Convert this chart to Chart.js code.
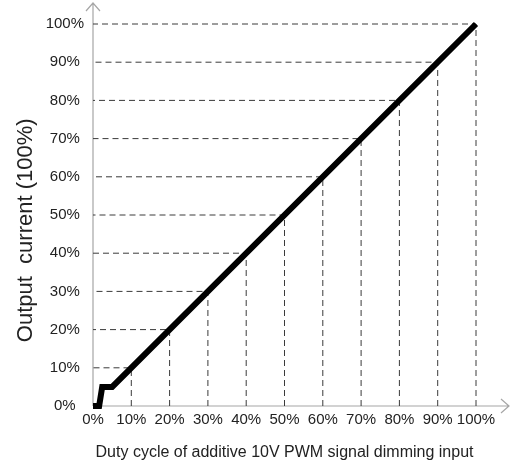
<!DOCTYPE html>
<html>
<head>
<meta charset="utf-8">
<script src="https://cdn.jsdelivr.net/npm/chart.js@4"></script>
<style>
  html, body { margin: 0; padding: 0; background: #fff; }
  #wrap { width: 525px; height: 470px; }
</style>
</head>
<body>
<div id="wrap"><canvas id="chart"></canvas></div>
<script>
// dimming curve (duty cycle % -> output current %)
const dutyCycle = [0, 1.6, 2.4, 5, 100];
const outputCurrent = [0, 0, 5, 5, 100];
// guide marks drawn as dashed L shapes
const guideValues = [10, 20, 30, 40, 50, 60, 70, 80, 90, 100];
const tickStep = 10;

const curvePoints = dutyCycle.map((x, i) => ({ x: x, y: outputCurrent[i] }));

const guidePoints = [];
guideValues.forEach((v) => {
    guidePoints.push({ x: v, y: 0 });
    guidePoints.push({ x: v, y: v });
    guidePoints.push({ x: 0, y: v });
    guidePoints.push({ x: v, y: null });
});

// axis lines with open arrow heads, running past the plot area
const arrowAxes = {
    id: 'arrowAxes',
    beforeDatasetsDraw(chart) {
        const ctx = chart.ctx;
        const xs = chart.scales.x;
        const ys = chart.scales.y;
        const x0 = xs.getPixelForValue(0);
        const y0 = ys.getPixelForValue(0);
        const xEnd = xs.getPixelForValue(100) + 33;
        const yEnd = ys.getPixelForValue(100) - 21;
        ctx.save();
        ctx.strokeStyle = '#a6a6a6';
        ctx.lineWidth = 1.2;
        ctx.beginPath();
        ctx.moveTo(x0, y0);
        ctx.lineTo(x0, yEnd);
        ctx.moveTo(x0, y0);
        ctx.lineTo(xEnd, y0);
        // arrow heads
        ctx.moveTo(x0 - 7, yEnd + 8);
        ctx.lineTo(x0, yEnd);
        ctx.lineTo(x0 + 7, yEnd + 8);
        ctx.moveTo(xEnd - 8, y0 - 7);
        ctx.lineTo(xEnd, y0);
        ctx.lineTo(xEnd - 8, y0 + 7);
        ctx.stroke();
        ctx.restore();
    }
};

new Chart(document.getElementById('chart'), {
    type: 'line',
    data: {
        datasets: [
            {
                label: 'Output current',
                data: curvePoints,
                borderColor: '#000',
                borderWidth: 6,
                pointRadius: 0,
                borderJoinStyle: 'miter',
                clip: 12,
                order: 0,
            },
            {
                label: 'Guides',
                data: guidePoints,
                borderColor: '#3a3a3a',
                borderWidth: 1,
                borderDash: [6, 4],
                pointRadius: 0,
                spanGaps: false,
                clip: 4,
                order: 1,
            },
        ],
    },
    plugins: [arrowAxes],
    options: {
        responsive: true,
        maintainAspectRatio: false,
        animation: false,
        layout: { padding: { top: 24, right: 49, left: 0, bottom: 0 } },
        plugins: {
            legend: { display: false },
            tooltip: { enabled: false },
        },
        scales: {
            x: {
                type: 'linear',
                min: 0,
                max: 100,
                grid: { display: false, drawTicks: false },
                border: { display: false },
                afterFit: (scale) => { scale.height = 64; },
                ticks: {
                    stepSize: tickStep,
                    padding: 5,
                    color: '#222',
                    font: { family: 'Liberation Sans, Arial', size: 15 },
                    callback: (v) => v + '%',
                    maxRotation: 0,
                    autoSkip: false,
                },
                title: {
                    display: true,
                    text: 'Duty cycle of additive 10V PWM signal dimming input',
                    color: '#222',
                    font: { family: 'Liberation Sans, Arial', size: 16 },
                    padding: { top: 0, bottom: 8 },
                },
            },
            y: {
                type: 'linear',
                min: 0,
                max: 100,
                grid: { display: false, drawTicks: false },
                border: { display: false },
                afterFit: (scale) => { scale.width = 93; },
                ticks: {
                    stepSize: tickStep,
                    padding: 9,
                    crossAlign: 'center',
                    color: '#222',
                    font: { family: 'Liberation Sans, Arial', size: 15 },
                    callback: (v) => v + '%',
                },
                title: {
                    display: true,
                    text: 'Output  current (100%)     ',
                    color: '#222',
                    font: { family: 'Liberation Sans, Arial', size: 22 },
                    padding: { top: 13, bottom: 0 },
                },
            },
        },
    },
});
</script>
</body>
</html>
